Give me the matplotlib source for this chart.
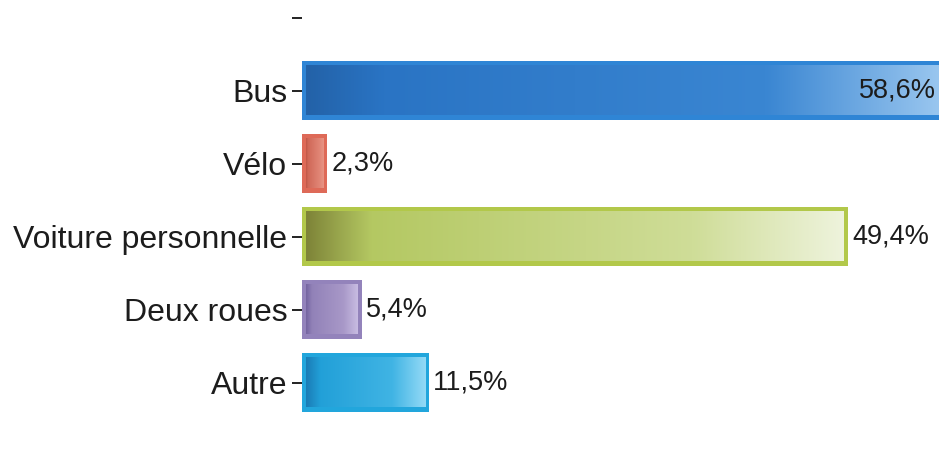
import matplotlib
matplotlib.use("Agg")
import matplotlib.pyplot as plt
import numpy as np
from matplotlib.colors import LinearSegmentedColormap

plt.rcParams['font.family'] = ['Liberation Sans', 'DejaVu Sans']

# ---- data ----
categories = ['Bus', 'Vélo', 'Voiture personnelle', 'Deux roues', 'Autre']
values = [58.6, 2.3, 49.4, 5.4, 11.5]
value_labels = ['58,6%', '2,3%', '49,4%', '5,4%', '11,5%']

# ---- styles ----
border_colors = ['#2f85d5', '#de6a58', '#b2c84a', '#9383bb', '#22a6dc']
grad_stops = [
    ['#2362a8', '#2a74c4', '#3a86d2', '#9cc8f0'],
    ['#c05646', '#d06858', '#e08474', '#e89484'],
    ['#7e8438', '#b4c862', '#cfdd98', '#eef3dc'],
    ['#7464a0', '#9282b8', '#a898c8', '#c8bce2'],
    ['#1a7cb6', '#22a0d8', '#40b4e4', '#94daf6'],
]

W, H = 939, 454
fig = plt.figure(figsize=(W / 100, H / 100), dpi=100)
x0_px = 302
ax = fig.add_axes([x0_px / W, 0, 1 - x0_px / W, 1])

px_per_unit = 11.05
xmax = (W - x0_px) / px_per_unit
slot_px = 72.9
top_tick_px = 18
ax.set_xlim(0, xmax)
ax.set_ylim((H - top_tick_px) / slot_px, -top_tick_px / slot_px)

positions = np.arange(1, len(categories) + 1)
bar_h = 0.81
bars = ax.barh(positions, values, height=bar_h, color=border_colors,
               edgecolor='none', zorder=2)

# inner gradient fills
ix = 4 / px_per_unit
iy = 5 / slot_px
for bar, stops in zip(bars, grad_stops):
    x, y = bar.get_x(), bar.get_y()
    w, h = bar.get_width(), bar.get_height()
    cmap = LinearSegmentedColormap.from_list('g', list(zip([0, 0.12, 0.72, 1.0], stops)))
    grad = np.linspace(0, 1, 256).reshape(1, -1)
    ax.imshow(grad, cmap=cmap, aspect='auto', interpolation='bilinear',
              extent=[x + ix, x + w - ix, y + h - iy, y + iy], zorder=3)

# value labels
for pos, v, lab in zip(positions, values, value_labels):
    if v > xmax:
        ax.annotate(lab, xy=(xmax, pos), xytext=(-2, 0), textcoords='offset points',
                    ha='right', va='center', fontsize=19.5, color='#1c1c1c',
                    zorder=5)
    else:
        ax.annotate(lab, xy=(v, pos), xytext=(3, 0), textcoords='offset points',
                    ha='left', va='center', fontsize=19.5, color='#1c1c1c',
                    zorder=5)

ax.set_xlim(0, xmax)
ax.set_ylim((H - top_tick_px) / slot_px, -top_tick_px / slot_px)

ax.set_yticks(np.arange(0, len(categories) + 1))
ax.set_yticklabels([''] + categories, fontsize=23, color='#1c1c1c')
ax.tick_params(axis='y', length=7.5, width=1.4, color='#222222', pad=3)
ax.set_xticks([])
for s in ax.spines.values():
    s.set_visible(False)

fig.savefig('out.png', dpi=100, facecolor='white')
